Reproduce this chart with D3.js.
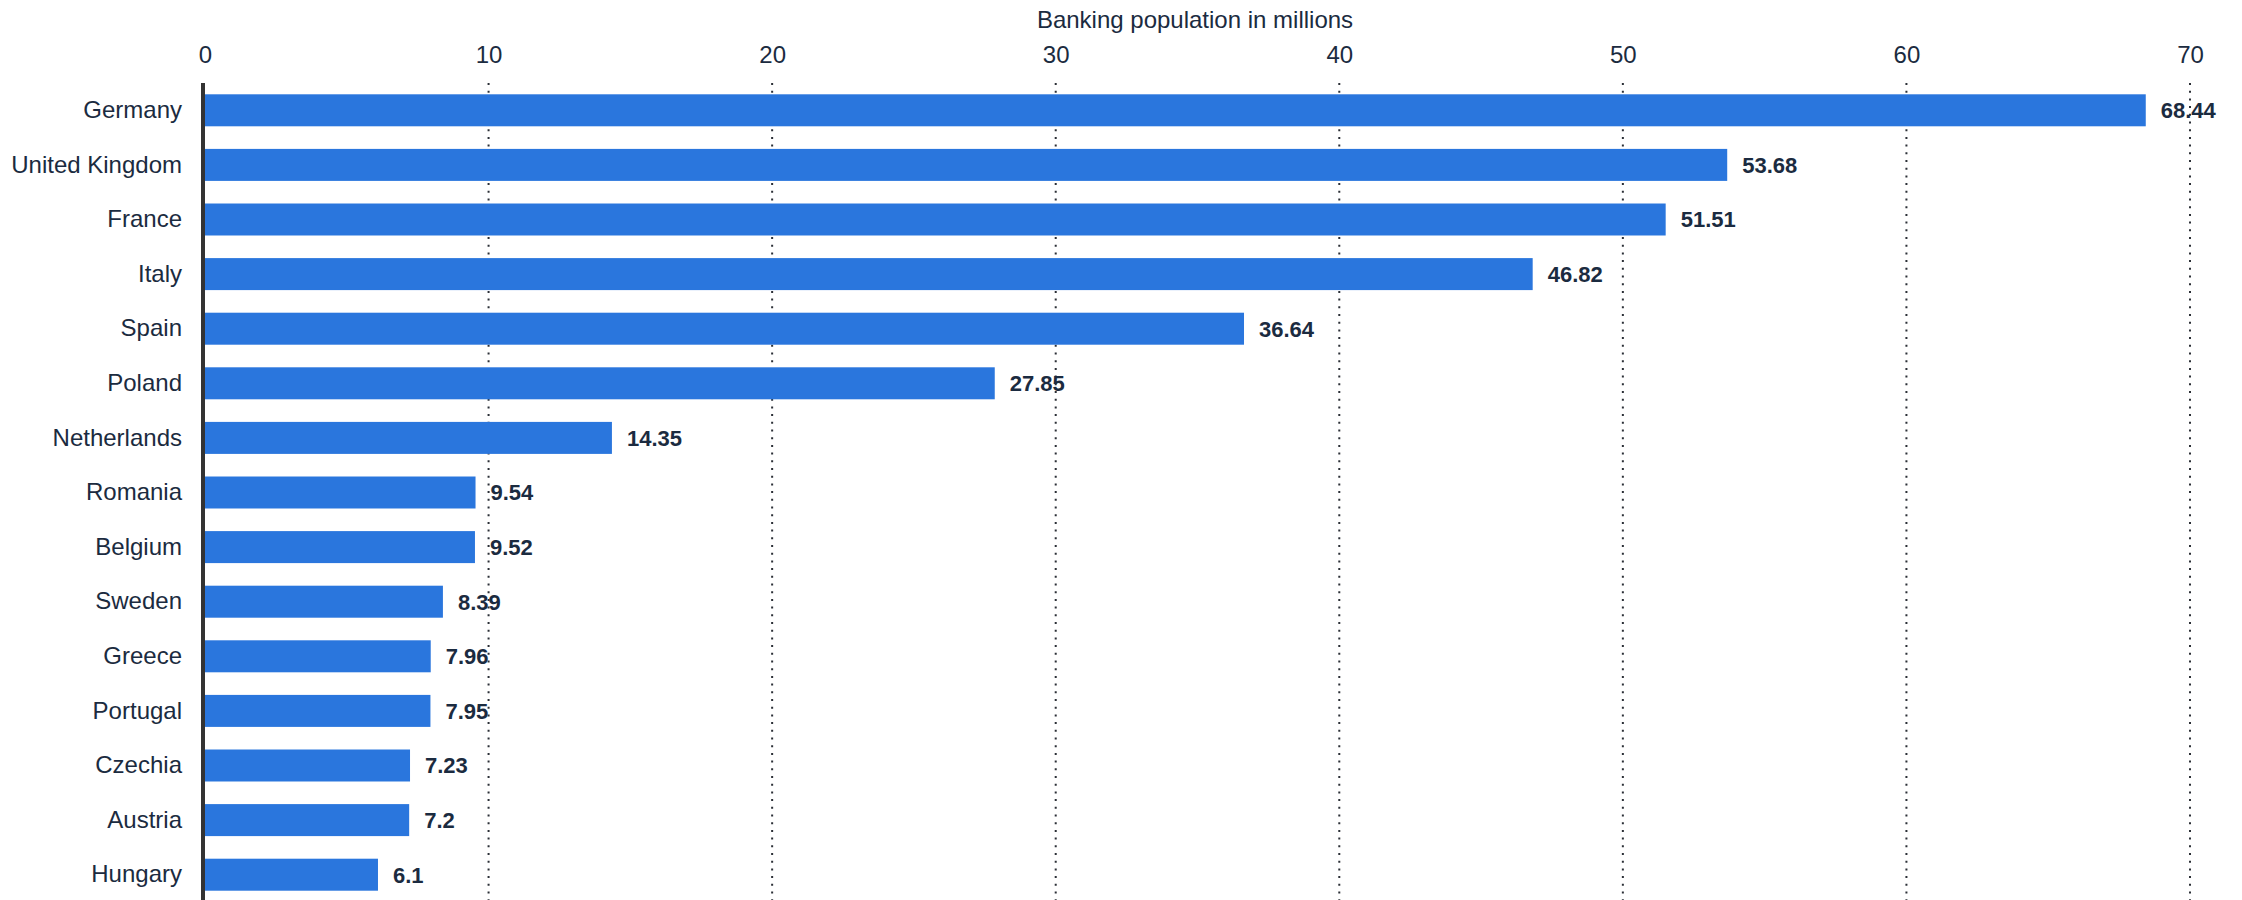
<!DOCTYPE html>
<html>
<head>
<meta charset="utf-8">
<script src="https://cdn.jsdelivr.net/npm/d3@7"></script>
<style>
  html, body { margin: 0; padding: 0; background: #ffffff; }
  svg { display: block; font-family: "Liberation Sans", Arial, sans-serif; }
</style>
</head>
<body>
<svg id="chart" width="2242" height="900"></svg>
<script>
// Banking population by country (millions)
const countries = ["Germany", "United Kingdom", "France", "Italy", "Spain", "Poland",
  "Netherlands", "Romania", "Belgium", "Sweden", "Greece", "Portugal", "Czechia",
  "Austria", "Hungary"];
const population = [68.44, 53.68, 51.51, 46.82, 36.64, 27.85, 14.35, 9.54, 9.52,
  8.39, 7.96, 7.95, 7.23, 7.2, 6.1];
const tickValues = [0, 10, 20, 30, 40, 50, 60, 70];
const axisTitle = "Banking population in millions";

(function () {
  const svg = d3.select("#chart");
  const textColor = "#1b2b40";
  const barColor = "#2a76dd";

  const plotLeft = 205, plotRight = 2190, plotTop = 83, plotBottom = 902;

  const x = d3.scaleLinear().domain([0, 70]).range([plotLeft, plotRight]);
  const y = d3.scaleBand().domain(countries).range([plotTop, plotBottom])
    .paddingInner(0.414).paddingOuter(0.207);

  // dotted vertical gridlines
  svg.append("g").selectAll("line")
    .data(tickValues.filter(d => d > 0))
    .join("line")
    .attr("x1", d => x(d)).attr("x2", d => x(d))
    .attr("y1", plotTop).attr("y2", 900)
    .attr("stroke", "#2b2f36")
    .attr("stroke-width", 2)
    .attr("stroke-dasharray", "2,5.7");

  // top axis tick labels
  const xAxis = d3.axisTop(x).tickValues(tickValues).tickSize(0).tickPadding(0)
    .tickFormat(d3.format("d"));
  const gx = svg.append("g").attr("transform", "translate(0,63)").call(xAxis);
  gx.select(".domain").remove();
  gx.selectAll("text")
    .attr("dy", 0)
    .attr("font-size", 24)
    .attr("font-family", "Liberation Sans, Arial, sans-serif")
    .attr("fill", textColor);

  // axis title
  svg.append("text")
    .attr("x", 1195)
    .attr("y", 28)
    .attr("text-anchor", "middle")
    .attr("font-size", 24)
    .attr("fill", textColor)
    .text(axisTitle);

  // bars
  svg.append("g").selectAll("rect")
    .data(population)
    .join("rect")
    .attr("x", x(0))
    .attr("y", (d, i) => y(countries[i]))
    .attr("width", d => x(d) - x(0))
    .attr("height", y.bandwidth())
    .attr("fill", barColor);

  // category labels
  const yAxis = d3.axisLeft(y).tickSize(0).tickPadding(22);
  const gy = svg.append("g").attr("transform", `translate(${plotLeft - 1},0)`).call(yAxis);
  gy.select(".domain").remove();
  gy.selectAll("text")
    .attr("font-size", 24)
    .attr("font-family", "Liberation Sans, Arial, sans-serif")
    .attr("fill", textColor);

  // baseline
  svg.append("line")
    .attr("x1", x(0) - 2).attr("x2", x(0) - 2)
    .attr("y1", plotTop).attr("y2", 900)
    .attr("stroke", "#333333")
    .attr("stroke-width", 4);

  // value labels
  svg.append("g").selectAll("text")
    .data(population)
    .join("text")
    .attr("x", d => x(d) + 15)
    .attr("y", (d, i) => y(countries[i]) + y.bandwidth() / 2)
    .attr("dy", "0.36em")
    .attr("font-size", 22)
    .attr("font-weight", "bold")
    .attr("fill", textColor)
    .text(d => String(d));
})();
</script>
</body>
</html>
